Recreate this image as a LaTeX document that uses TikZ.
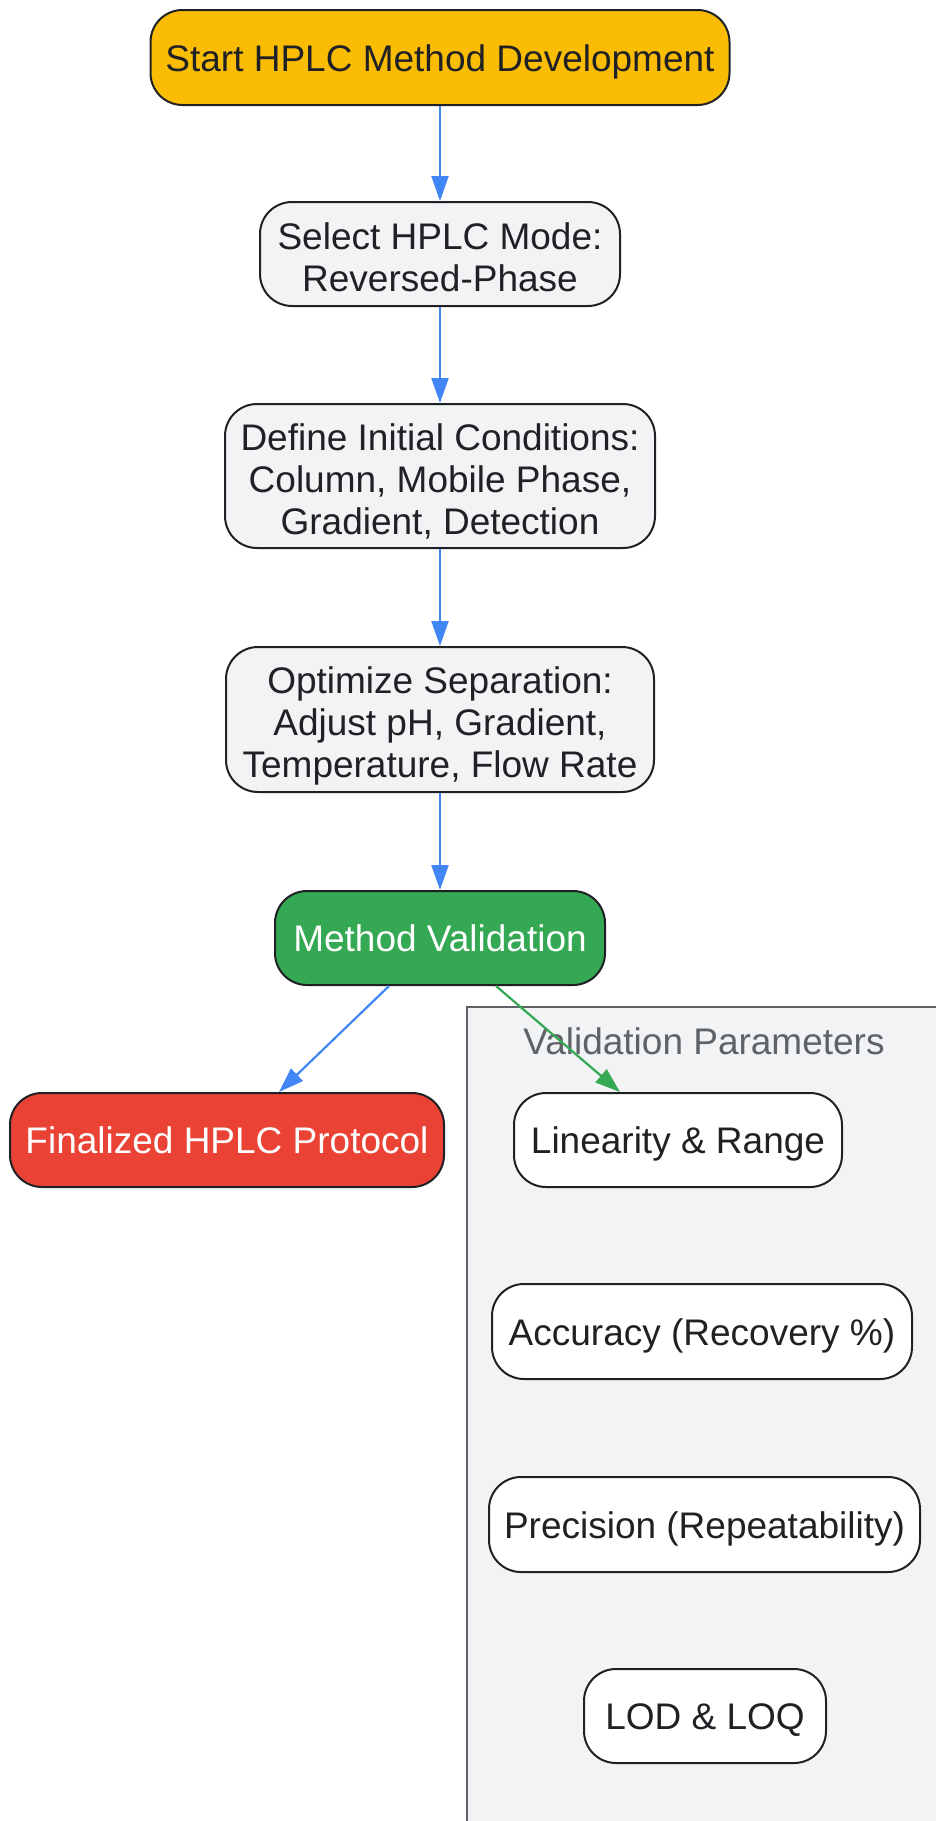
\documentclass[tikz,border=0pt]{standalone}
\usepackage{fontspec}
\setmainfont{Liberation Sans}
\usepackage{tikz}
\usetikzlibrary{arrows.meta,positioning}

\definecolor{gyellow}{HTML}{FBBC04}
\definecolor{ggreen}{HTML}{34A853}
\definecolor{gred}{HTML}{EA4335}
\definecolor{gblue}{HTML}{4285F4}
\definecolor{gpale}{HTML}{F1F3F4}
\definecolor{gslate}{HTML}{5F6368}
\definecolor{gink}{HTML}{202124}

\newcommand{\topgap}{\rule{0pt}{32pt}}

\begin{document}
\begin{tikzpicture}[x=1pt,y=-1pt,node distance=95pt,
                    >={Triangle[length=25pt,width=17pt]}]
  \tikzstyle{every node}=[font=\fontsize{37}{42}\selectfont]
  \tikzstyle{box}=[draw=gink,line width=2pt,rounded corners=32pt,fill=gpale,
                   text=gink,align=center,inner sep=0pt,minimum height=94pt,
                   text depth=0pt]
  \tikzstyle{oneline}=[text height=27pt]
  \tikzstyle{flow}=[->,draw=gblue,fill=gblue,line width=2.2pt]

  \useasboundingbox (0,0) rectangle (935,1821);

  % validation cluster
  \draw[draw=gslate,line width=2pt,fill=gpale] (467,1007) rectangle (945,1835);
  \node[text=gslate] (vlab) at (704,1041) {Validation Parameters};

  \node[box,oneline,fill=gyellow,minimum width=579pt,minimum height=95pt] (start) at (440,57.5) {Start HPLC Method Development};
  \node[box,minimum width=360pt,minimum height=104pt] (mode) [below=of start] {\topgap Select HPLC Mode:\\Reversed-Phase};
  \node[box,minimum width=430pt,minimum height=144pt] (init) [below=96pt of mode] {\topgap Define Initial Conditions:\\Column, Mobile Phase,\\Gradient, Detection};
  \node[box,minimum width=428pt,minimum height=145pt] (opt) [below=97pt of init] {\topgap Optimize Separation:\\Adjust pH, Gradient,\\Temperature, Flow Rate};
  \node[box,oneline,fill=ggreen,text=white,minimum width=330pt] (valid) [below=97pt of opt] {Method Validation};

  \node[box,oneline,fill=gred,text=white,minimum width=434pt] (final) at (227,1140) {Finalized HPLC Protocol};

  \node[box,oneline,fill=white,minimum width=328pt] (lin) at (678,1140) {Linearity \& Range};
  \node[box,oneline,fill=white,minimum width=420pt,minimum height=95pt] (acc) at (702,1331.5) {Accuracy (Recovery \%)};
  \node[box,oneline,fill=white,minimum width=431pt,minimum height=95pt] (prec) at (704.5,1524.5) {Precision (Repeatability)};
  \node[box,oneline,fill=white,minimum width=242pt] (lod) at (705,1716) {LOD \& LOQ};

  \draw[flow] (start) -- (mode);
  \draw[flow] (mode) -- (init);
  \draw[flow] (init) -- (opt);
  \draw[flow] (opt) -- (valid);
  \draw[flow] ([xshift=-51pt]valid.south) -- ([xshift=52pt]final.north);
  \draw[flow,draw=ggreen,fill=ggreen] ([xshift=56pt]valid.south) -- ([xshift=-58pt]lin.north);

\end{tikzpicture}
\end{document}
